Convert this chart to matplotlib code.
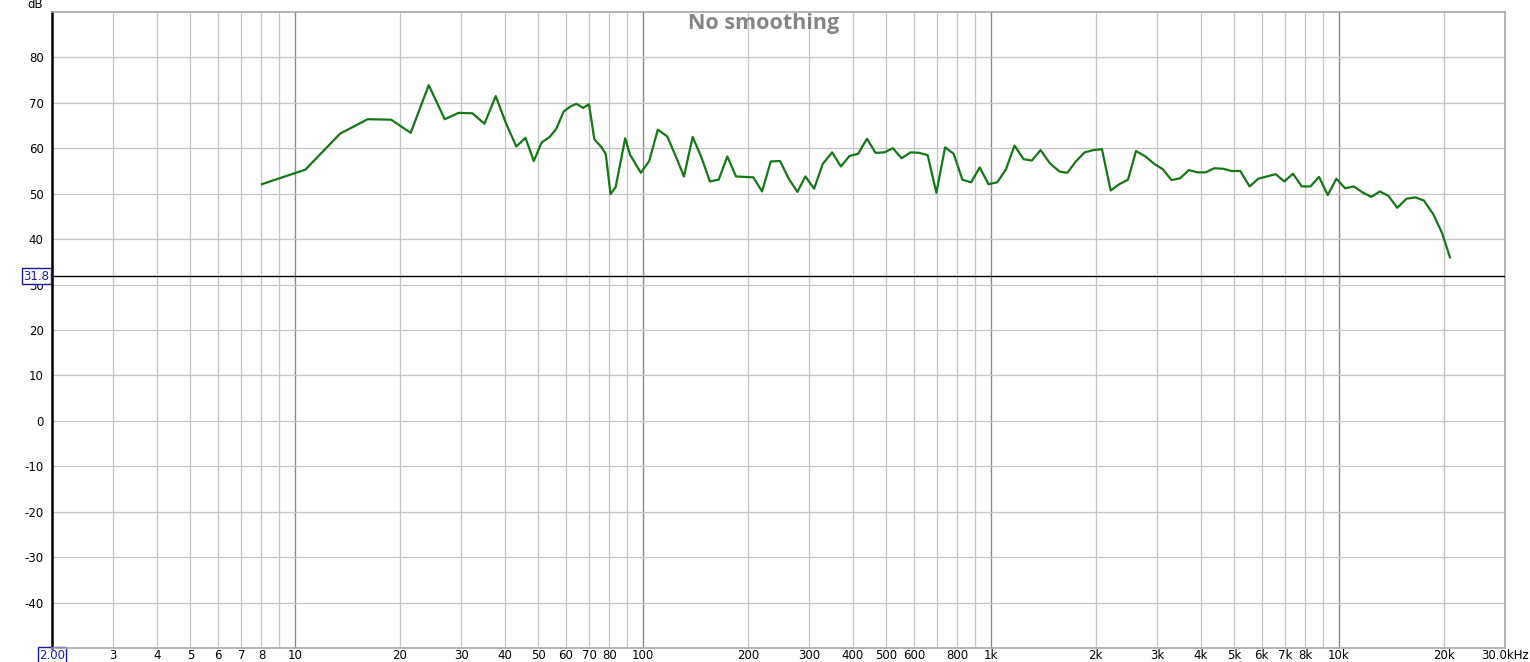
import matplotlib
matplotlib.use("Agg")
import matplotlib.pyplot as plt
import numpy as np

freq = [8.02, 10.7, 13.45, 16.15, 18.86, 21.48, 24.2, 26.9, 29.5, 32.3, 35.0, 37.7,
        40.4, 43.2, 45.9, 48.5, 51.1, 53.9, 56.3, 59.1, 61.8, 64.3, 67.2, 69.9,
        72.4, 76.0, 78.1, 80.6, 83.4, 88.8, 91.7, 98.5, 104.1, 110.2, 117.3, 124.2,
        131.0, 138.8, 146.9, 155.6, 164.9, 174.6, 184.9, 195.9, 207.4, 219.7, 232.7,
        247.5, 262.2, 277.6, 292.6, 310.0, 328.5, 349.4, 370.1, 391.8, 415.1, 439.8,
        465.6, 493.2, 522.6, 553.3, 586.1, 620.9, 657.3, 696.3, 737.6, 780.6, 827.2,
        876.3, 927.8, 982.9, 1041, 1102.6, 1168, 1240, 1310, 1388, 1476, 1571, 1656,
        1753, 1857, 1968, 2083, 2207, 2338, 2475, 2610, 2778, 2941, 3115, 3300, 3494,
        3703, 3922, 4135, 4378, 4638, 4913, 5202, 5536, 5861, 6209, 6578, 6964, 7378,
        7814, 8274, 8763, 9284, 9829, 10413, 11030, 11680, 12376, 13112, 13876, 14703,
        15636, 16560, 17543, 18660, 19767, 20842]
spl = [52.1, 55.3, 63.2, 66.4, 66.3, 63.4, 73.9, 66.4, 67.8, 67.7, 65.4, 71.5,
       65.4, 60.4, 62.3, 57.2, 61.3, 62.5, 64.3, 68.1, 69.2, 69.8, 68.9, 69.7,
       62.0, 60.2, 58.7, 49.9, 51.5, 62.2, 58.6, 54.6, 57.2, 64.1, 62.6, 58.2,
       53.8, 62.5, 58.1, 52.7, 53.1, 58.2, 53.8, 53.7, 53.6, 50.5, 57.1,
       57.2, 53.3, 50.4, 53.8, 51.1, 56.6, 59.1, 56.0, 58.3, 58.8, 62.1,
       59.0, 59.1, 60.0, 57.8, 59.1, 59.0, 58.5, 50.2, 60.2, 58.8, 53.1,
       52.5, 55.8, 52.1, 52.5, 55.3, 60.6, 57.6, 57.3, 59.6, 56.7, 54.9, 54.6,
       57.1, 59.1, 59.6, 59.8, 50.7, 52.1, 53.1, 59.4, 58.2, 56.6, 55.4, 53.0, 53.4,
       55.2, 54.7, 54.7, 55.6, 55.5, 55.0, 55.0, 51.6, 53.3, 53.8, 54.3, 52.7, 54.4,
       51.6, 51.6, 53.7, 49.7, 53.3, 51.2, 51.6, 50.3, 49.3, 50.5, 49.5, 46.9,
       48.9, 49.2, 48.5, 45.5, 41.4, 36.0]

xtick_vals = [2, 3, 4, 5, 6, 7, 8, 10, 20, 30, 40, 50, 60, 70, 80, 100, 200, 300, 400,
              500, 600, 800, 1000, 2000, 3000, 4000, 5000, 6000, 7000, 8000, 10000,
              20000, 30000]
xtick_labels = ["2.00", "3", "4", "5", "6", "7", "8", "10", "20", "30", "40", "50", "60",
                "70", "80", "100", "200", "300", "400", "500", "600", "800", "1k", "2k",
                "3k", "4k", "5k", "6k", "7k", "8k", "10k", "20k", "30.0kHz"]
ytick_vals = [80, 70, 60, 50, 40, 30, 20, 10, 0, -10, -20, -30, -40]
cursor_db = 31.8
title = "No smoothing"

fig = plt.figure(figsize=(15.3, 6.62), dpi=100)
ax = fig.add_axes([52/1530, 14/662, 1453/1530, 636/662])
ax.set_xscale("log")
ax.set_xlim(2, 30000)
ax.set_ylim(-50, 90)

# grid
minor_x = []
for dec in [1, 10, 100, 1000, 10000]:
    for m in range(1, 10):
        v = dec * m
        if 2 <= v <= 30000:
            minor_x.append(v)
for v in minor_x:
    if v in (10, 100, 1000, 10000):
        ax.axvline(v, color="#8a8a8a", lw=1.0, zorder=1)
    else:
        ax.axvline(v, color="#c4c4c4", lw=0.9, zorder=1)
ax.axvline(20000, color="#c4c4c4", lw=0.9, zorder=1)
for yv in ytick_vals:
    ax.axhline(yv, color="#c4c4c4", lw=0.9, zorder=1)

ax.axhline(cursor_db, color="black", lw=1.0, zorder=3)
ax.plot(freq, spl, color="#147814", lw=1.6, zorder=4)

ax.set_xticks(xtick_vals)
ax.set_xticklabels(xtick_labels)
ax.xaxis.set_minor_locator(matplotlib.ticker.NullLocator())
ax.set_yticks(ytick_vals)
ax.set_yticklabels([str(v) for v in ytick_vals])
ax.tick_params(axis="both", length=0, labelsize=8.5, colors="black")
ax.tick_params(axis="x", pad=0.5)
ax.tick_params(axis="y", pad=6)
for lab in ax.get_xticklabels():
    if lab.get_text() == "2.00":
        lab.set_color("#1a1aa0")
        lab.set_bbox(dict(boxstyle="square,pad=0.12", fc="white", ec="#1a1aa0", lw=1))

for s in ["top", "right", "bottom"]:
    ax.spines[s].set_color("#a8a8a8")
    ax.spines[s].set_linewidth(1.2)
ax.spines["left"].set_color("black")
ax.spines["left"].set_linewidth(1.8)

ax.text(-0.006, 90.3, "dB", transform=ax.get_yaxis_transform(), ha="right", va="bottom",
        fontsize=8.5)
ax.text(-0.002, cursor_db, "31.8", transform=ax.get_yaxis_transform(), ha="right",
        va="center", fontsize=8.5, color="#1a1aa0", zorder=6,
        bbox=dict(boxstyle="square,pad=0.12", fc="white", ec="#1a1aa0", lw=1))
fig.text(764/1530, 1 - 13/662, title, ha="center", va="top",
         fontsize=15.5, fontweight="bold", color="#858585", family="Open Sans")

fig.savefig("out.png", dpi=100)
